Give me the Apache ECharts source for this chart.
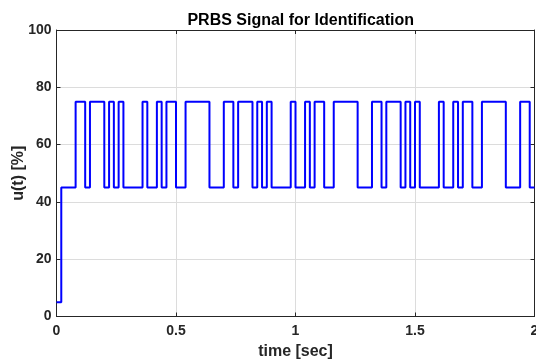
<!DOCTYPE html>
<html>
<head>
<meta charset="utf-8">
<script src="https://cdn.jsdelivr.net/npm/echarts@6/dist/echarts.min.js"></script>
<style>
  html, body { margin: 0; padding: 0; background: #fff; }
  #chart { width: 536px; height: 361px; }
</style>
</head>
<body>
<div id="chart"></div>
<script>
// PRBS excitation: switching instants (s) and the level held from each instant on (%)
const switchTimes = [
  0.00, 0.02, 0.08, 0.12, 0.14, 0.20, 0.22, 0.24, 0.26, 0.28,
  0.36, 0.38, 0.42, 0.44, 0.46, 0.50, 0.54, 0.64, 0.70, 0.74,
  0.76, 0.82, 0.84, 0.86, 0.88, 0.90, 0.98, 1.00, 1.04, 1.06,
  1.08, 1.12, 1.16, 1.26, 1.32, 1.36, 1.38, 1.44, 1.46, 1.48,
  1.50, 1.52, 1.60, 1.62, 1.66, 1.68, 1.70, 1.74, 1.78, 1.88,
  1.94, 1.98
];
const levels = [
  5, 45, 75, 45, 75, 45, 75, 45, 75, 45,
  75, 45, 75, 45, 75, 45, 75, 45, 75, 45,
  75, 45, 75, 45, 75, 45, 75, 45, 75, 45,
  75, 45, 75, 45, 75, 45, 75, 45, 75, 45,
  75, 45, 75, 45, 75, 45, 75, 45, 75, 45,
  75, 45
];
const tEnd = 2.0;
const xTicks = [0, 0.5, 1, 1.5, 2];
const yTicks = [0, 20, 40, 60, 80, 100];

const points = switchTimes.map((t, i) => [t, levels[i]]);
points.push([tEnd, levels[levels.length - 1]]);

const ink = '#262626';
const font = 'Liberation Sans, Arial, Helvetica, sans-serif';

function fmtX(v) {
  return xTicks.includes(v) ? String(v) : '';
}
function fmtY(v) {
  return yTicks.includes(v) ? String(v) : '';
}

const chart = echarts.init(document.getElementById('chart'), null, { renderer: 'canvas' });
chart.setOption({
  animation: false,
  backgroundColor: '#ffffff',
  title: {
    text: 'PRBS Signal for Identification',
    left: 295.75,
    textAlign: 'center',
    top: 8,
    textStyle: { fontFamily: font, fontSize: 16, fontWeight: 'bold', color: '#000' }
  },
  grid: { left: 56.5, right: 1.5, top: 30, bottom: 44.5, show: false, containLabel: false, outerBoundsMode: 'none' },
  xAxis: [
    {
      type: 'value', min: 0, max: tEnd, interval: 0.5, position: 'bottom',
      name: 'time [sec]', nameLocation: 'middle', nameGap: 27, nameMoveOverlap: false,
      nameTextStyle: { fontFamily: font, fontSize: 16, fontWeight: 'bold', color: ink },
      axisLine: { show: true, lineStyle: { color: ink, width: 1 } },
      axisTick: { show: true, inside: true, length: 4, lineStyle: { color: ink } },
      axisLabel: { fontFamily: font, fontSize: 14, fontWeight: 'bold', color: ink, margin: 8, formatter: fmtX },
      splitLine: { show: true, lineStyle: { color: '#dcdcdc', width: 1 } }
    },
    {
      type: 'value', min: 0, max: tEnd, interval: 0.5, position: 'top',
      axisLine: { show: true, onZero: false, lineStyle: { color: ink, width: 1 } },
      axisTick: { show: true, inside: true, length: 4, lineStyle: { color: ink } },
      axisLabel: { show: false },
      splitLine: { show: false }
    }
  ],
  yAxis: [
    {
      type: 'value', min: 0, max: 100, interval: 20, position: 'left',
      name: 'u(t) [%]', nameLocation: 'middle', nameGap: 30, nameRotate: 90, nameMoveOverlap: false,
      nameTextStyle: { fontFamily: font, fontSize: 16, fontWeight: 'bold', color: ink },
      axisLine: { show: true, lineStyle: { color: ink, width: 1 } },
      axisTick: { show: true, inside: true, length: 4, lineStyle: { color: ink } },
      axisLabel: { fontFamily: font, fontSize: 14, fontWeight: 'bold', color: ink, margin: 5, formatter: fmtY },
      splitLine: { show: true, lineStyle: { color: '#dcdcdc', width: 1 } }
    },
    {
      type: 'value', min: 0, max: 100, interval: 20, position: 'right',
      axisLine: { show: true, onZero: false, lineStyle: { color: ink, width: 1 } },
      axisTick: { show: true, inside: true, length: 4, lineStyle: { color: ink } },
      axisLabel: { show: false },
      splitLine: { show: false }
    }
  ],
  series: [
    {
      type: 'line',
      step: 'end',
      data: points,
      xAxisIndex: 0,
      yAxisIndex: 0,
      showSymbol: false,
      clip: false,
      lineStyle: { color: '#0000ff', width: 2 }
    }
  ]
});
</script>
</body>
</html>
